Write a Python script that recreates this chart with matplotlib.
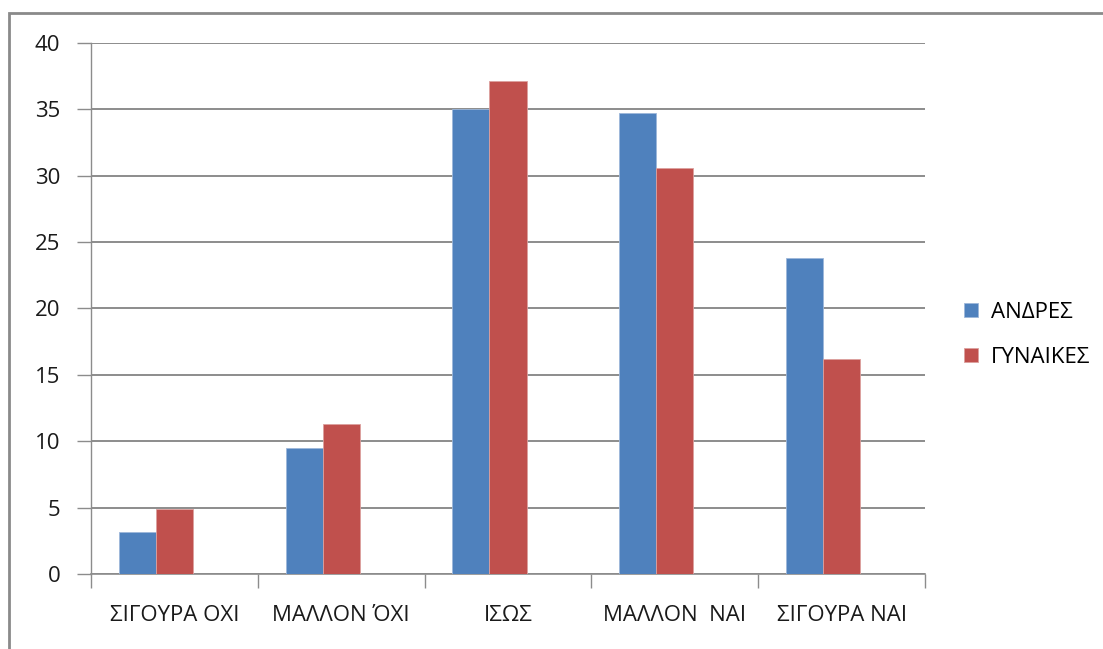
import numpy as np
import matplotlib
matplotlib.use("Agg")
from matplotlib import pyplot as plt
from matplotlib.patches import Rectangle

plt.rcParams['font.family'] = ['Open Sans', 'DejaVu Sans']

categories = ["ΣΙΓΟΥΡΑ ΟΧΙ", "ΜΑΛΛΟΝ ΌΧΙ", "ΙΣΩΣ", "ΜΑΛΛΟΝ  ΝΑΙ", "ΣΙΓΟΥΡΑ ΝΑΙ"]
andres = [3.2, 9.5, 35.0, 34.7, 23.8]
gynaikes = [4.9, 11.3, 37.1, 30.6, 16.2]
series_names = ["ΑΝΔΡΕΣ", "ΓΥΝΑΙΚΕΣ"]
yticks = [0, 5, 10, 15, 20, 25, 30, 35, 40]

blue = "#4F81BD"
red = "#C0504D"
grid = "#8C8C8C"
fs = 16

fig = plt.figure(figsize=(11.03, 6.49), dpi=100)
fig.patches.append(Rectangle((9 / 1103, 0 - 0.05), 1.2, (1 - 13 / 649) + 0.05,
                             transform=fig.transFigure, fill=False,
                             edgecolor="#8A8A8A", linewidth=2, zorder=0))

ax = fig.add_axes([91 / 1103, 1 - 574 / 649, (925 - 91) / 1103, (574 - 43) / 649])

# clusters laid out for three slots, the third one left empty
x = np.arange(len(categories))
w = 0.222
ax.bar(x - w, andres, w, color=blue, edgecolor="#9DB7DA", linewidth=0.6,
       label=series_names[0], zorder=3)
ax.bar(x, gynaikes, w, color=red, edgecolor="#DCA09E", linewidth=0.6,
       label=series_names[1], zorder=3)

ax.set_xlim(-0.5, len(categories) - 0.5)
ax.set_ylim(0, 40)
ax.set_yticks(yticks)
ax.set_yticklabels([str(v) for v in yticks], fontsize=fs, color="#1A1A1A")
ax.yaxis.grid(True, color=grid, linewidth=1.4, zorder=0)
ax.set_axisbelow(True)

# category labels sit between boundary ticks
ax.set_xticks(np.arange(-0.5, len(categories)), minor=False)
ax.set_xticklabels([])
ax.set_xticks(x, minor=True)
ax.set_xticklabels(categories, minor=True, fontsize=fs, color="#1A1A1A")
ax.tick_params(axis="x", which="major", length=10, width=1, color=grid, direction="out")
ax.tick_params(axis="x", which="minor", length=0, pad=22)
ax.tick_params(axis="y", length=10, width=1, color=grid, direction="out", pad=12)

for side in ["top", "right"]:
    ax.spines[side].set_visible(False)
ax.spines["left"].set_color(grid)
ax.spines["bottom"].set_color(grid)
ax.spines["left"].set_linewidth(1)
ax.spines["bottom"].set_linewidth(1.2)

ax.legend(loc="center left", bbox_to_anchor=(1.023, 0.45), frameon=False,
          fontsize=fs, handlelength=0.6, handleheight=0.6, handletextpad=0.6,
          labelspacing=1.1)

fig.savefig("out.png", dpi=100)
